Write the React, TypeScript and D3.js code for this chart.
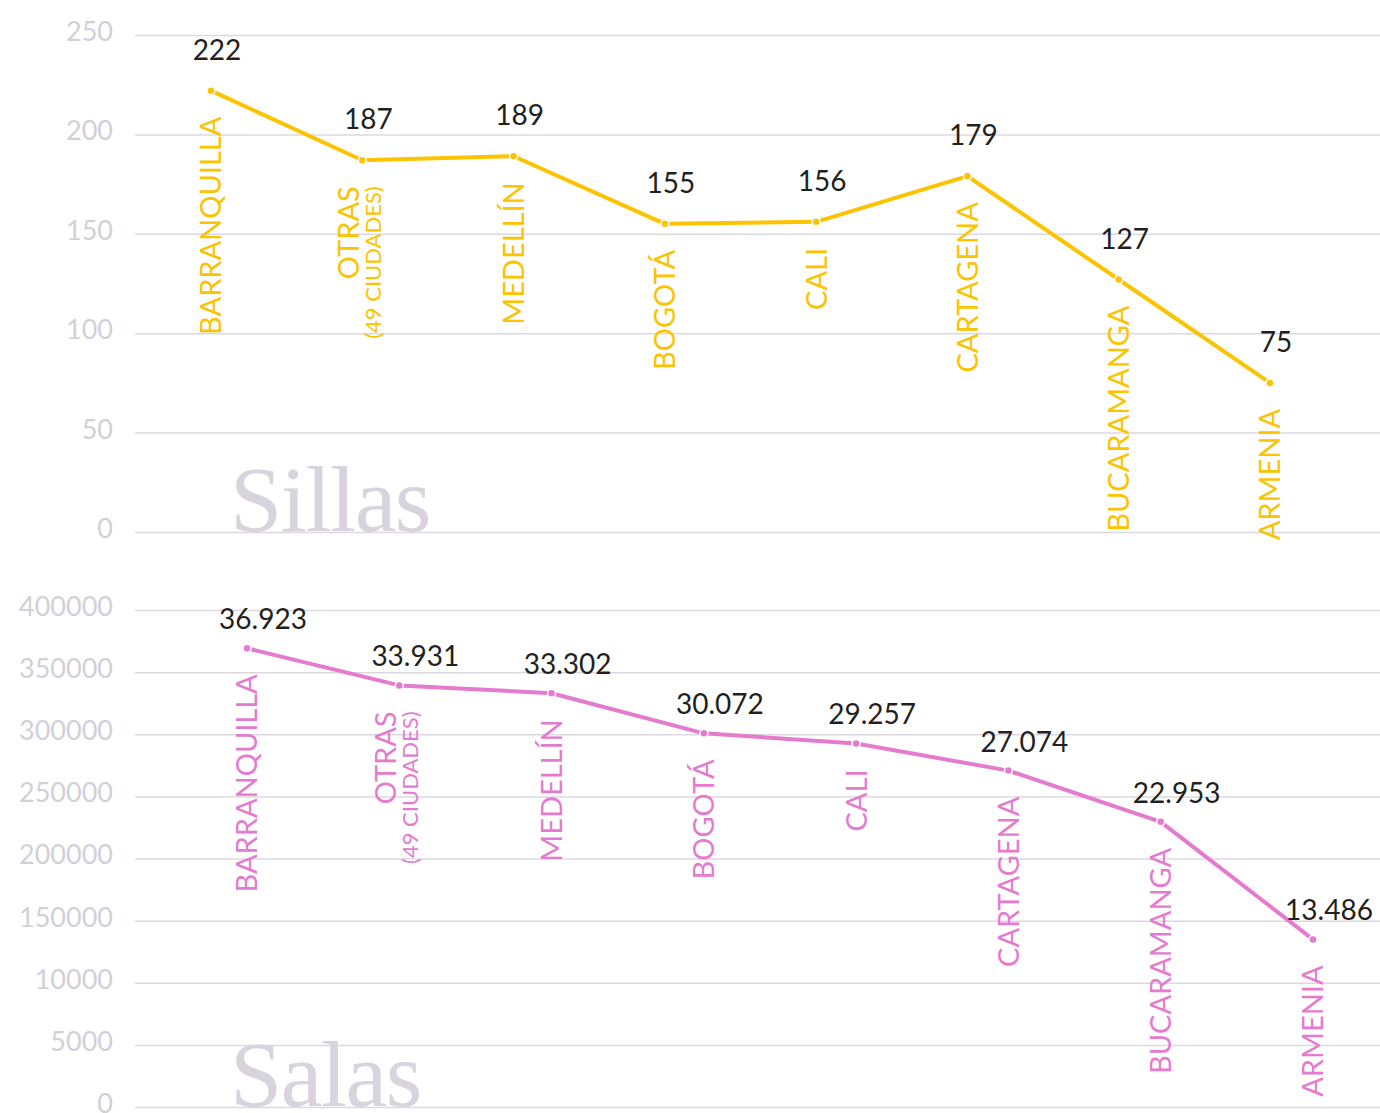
import React, { useEffect, useRef } from "react";
import * as d3 from "d3";

const categories = ["BARRANQUILLA", "OTRAS", "MEDELLÍN", "BOGOTÁ", "CALI", "CARTAGENA", "BUCARAMANGA", "ARMENIA"];
const subLabels = ["", "(49 CIUDADES)", "", "", "", "", "", ""];
const sillas = [222, 187, 189, 155, 156, 179, 127, 75];
const salas = [36923, 33931, 33302, 30072, 29257, 27074, 22953, 13486];
const sillasTicks = [0, 50, 100, 150, 200, 250];
const salasTickLabels = ["0", "5000", "10000", "150000", "200000", "250000", "300000", "350000", "400000"];

const W = 1380;
const H = 1113;
const gridColor = "#dcd8e0";
const tickColor = "#d3cfd8";
const sans = "Lato, 'Noto Sans', sans-serif";

const es = d3.formatLocale({ decimal: ",", thousands: ".", grouping: [3], currency: ["$", ""] });
const fmtThousands = es.format(",d");

const App = () => {
  const ref = useRef<SVGSVGElement | null>(null);

  useEffect(() => {
    const svg = d3.select(ref.current);
    svg.selectAll("*").remove();

    const drawPanel = (opts: {
      values: number[];
      y: d3.ScaleLinear<number, number>;
      xRange: [number, number];
      tickValues: number[];
      tickLabels: string[];
      color: string;
      title: string;
      titleY: number;
      fmt: (v: number) => string;
      valDx: number;
      valDy: number;
    }) => {
      const { values, y, xRange, tickValues, tickLabels, color } = opts;
      const x = d3.scalePoint<string>().domain(categories).range(xRange);
      const g = svg.append("g");

      // grid + ticks
      const axis = d3
        .axisLeft(y)
        .tickValues(tickValues)
        .tickSize(-(W - 135))
        .tickPadding(22)
        .tickFormat((_, i) => tickLabels[i]);
      const ax = g.append("g").attr("transform", "translate(135,0)").call(axis);
      ax.select(".domain").remove();
      ax.selectAll(".tick line").attr("stroke", gridColor).attr("stroke-width", 1.5);
      ax.selectAll(".tick text")
        .attr("fill", tickColor)
        .attr("font-family", sans)
        .attr("font-size", 27)
        .attr("dy", "0.2em");

      // big title
      g.append("text")
        .attr("x", 230)
        .attr("y", opts.titleY)
        .attr("font-family", "'Liberation Serif', 'DejaVu Serif', serif")
        .attr("font-size", 94)
        .attr("letter-spacing", -1.5)
        .attr("fill", "#d8d3dc")
        .text(opts.title);

      const line = d3
        .line<number>()
        .x((_, i) => x(categories[i])!)
        .y((d) => y(d));

      g.append("path")
        .datum(values)
        .attr("d", line)
        .attr("fill", "none")
        .attr("stroke", color)
        .attr("stroke-width", 4)
        .attr("stroke-linejoin", "round");

      g.selectAll("circle.pt")
        .data(values)
        .join("circle")
        .attr("cx", (_, i) => x(categories[i])!)
        .attr("cy", (d) => y(d))
        .attr("r", 4)
        .attr("fill", color)
        .attr("stroke", "#fff")
        .attr("stroke-width", 1.5);

      // value labels
      g.selectAll("text.val")
        .data(values)
        .join("text")
        .attr("class", "val")
        .attr("x", (_, i) => x(categories[i])! + opts.valDx)
        .attr("y", (d) => y(d) + opts.valDy)
        .attr("text-anchor", "middle")
        .attr("font-family", sans)
        .attr("font-size", 28)
        .attr("fill", "#231f20")
        .text((d) => opts.fmt(d));

      // category labels, rotated, hanging below each point
      const cl = g
        .selectAll("g.cat")
        .data(values)
        .join("g")
        .attr("class", "cat")
        .attr("transform", (d, i) => `translate(${x(categories[i])},${y(d) + 26}) rotate(-90)`);

      cl.append("text")
        .attr("text-anchor", "end")
        .attr("font-family", sans)
        .attr("font-size", 29)
        .attr("fill", color)
        .attr("dy", (_, i) => (subLabels[i] ? "-0.1em" : "0.36em"))
        .text((_, i) => categories[i]);

      cl.filter((_, i) => !!subLabels[i])
        .append("text")
        .attr("text-anchor", "end")
        .attr("font-family", sans)
        .attr("font-size", 22)
        .attr("fill", color)
        .attr("dy", "0.85em")
        .text((_, i) => subLabels[categories.indexOf("OTRAS")]);
    };

    const ySillas = d3.scaleLinear().domain([0, 250]).range([532, 35]);
    drawPanel({
      values: sillas,
      y: ySillas,
      xRange: [211, 1270],
      tickValues: sillasTicks,
      tickLabels: sillasTicks.map(String),
      color: "#fbc300",
      title: "Sillas",
      titleY: 531,
      fmt: (v) => String(v),
      valDx: 6,
      valDy: -31,
    });

    const ySalas = d3.scaleLinear().domain([0, 40000]).range([1107, 610]);
    drawPanel({
      values: salas,
      y: ySalas,
      xRange: [247, 1313],
      tickValues: d3.range(0, 40001, 5000),
      tickLabels: salasTickLabels,
      color: "#e47bcf",
      title: "Salas",
      titleY: 1106,
      fmt: (v) => fmtThousands(v),
      valDx: 16,
      valDy: -19,
    });
  }, []);

  return (
    <svg
      ref={ref}
      width={W}
      height={H}
      style={{ position: "absolute", left: 0, top: 0, background: "#fff" }}
    />
  );
};

export default App;
